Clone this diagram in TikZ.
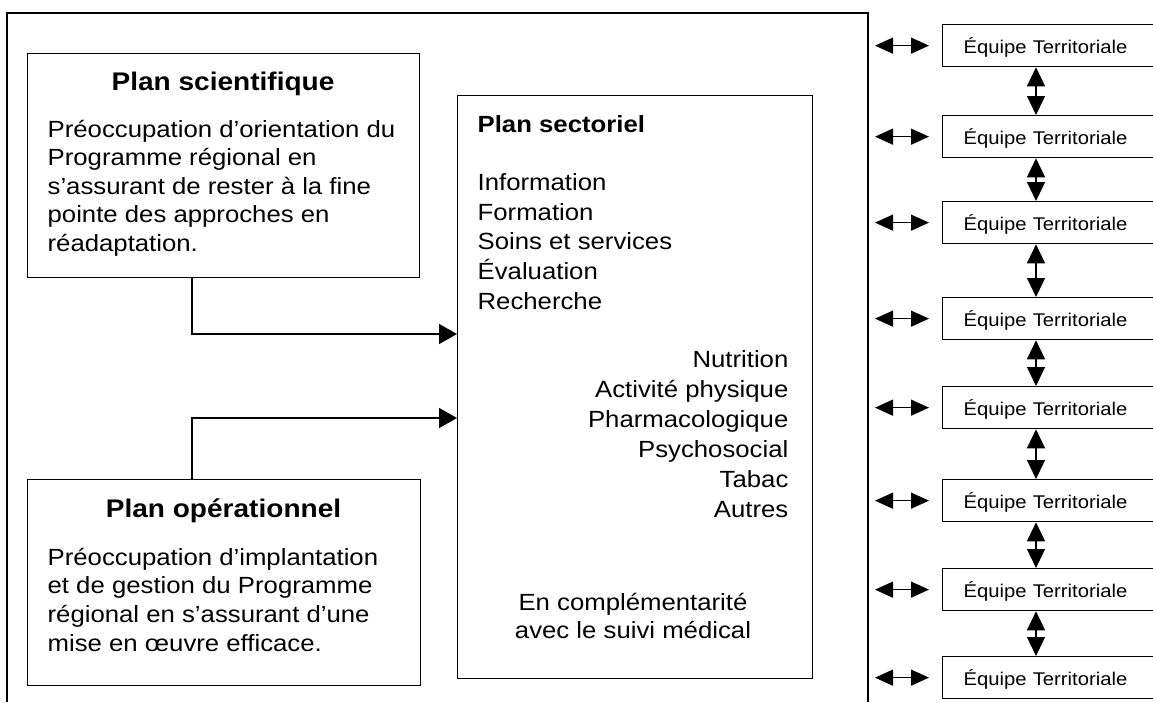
\documentclass[tikz,border=0pt]{standalone}
\usepackage{fontspec}
\setmainfont{Liberation Sans}[FakeStretch=1.1]
\usetikzlibrary{arrows.meta}

\newcommand\bodysize{\fontsize{23.4}{28.6}\selectfont}
\newcommand\midsize{\fontsize{23.4}{29.6}\selectfont}
\newcommand\headsize{\fontsize{25.5}{30}\selectfont\bfseries}
\newcommand\teamsize{\fontsize{18.4}{22}\selectfont}

\begin{document}
\begin{tikzpicture}[x=1pt, y=-1pt, line width=1.3pt,
  box/.style={draw, line width=1.3pt, inner sep=0pt, anchor=north west},
  txt/.style={inner sep=0pt, align=left, anchor=base west},
  team/.style={box, minimum width=223pt, minimum height=42pt,
    inner xsep=21pt, text width=181pt, align=left,
    text height=16pt, text depth=1pt, font=\teamsize},
  feed/.style={-{Triangle[length=18pt, width=20pt]}},
  link/.style={{Triangle[length=18pt, width=16pt]}-{Triangle[length=18pt, width=16pt]}, shorten >=13pt},
  chain/.style={{Triangle[length=19pt, width=18pt]}-{Triangle[length=19pt, width=18pt]}}]
\useasboundingbox (0,0) rectangle (1153,702);

% outer frame, open at the bottom
\draw (7,702) -- (7,13) -- (868,13) -- (868,702);

% scientific plan (multi-line texts are placed by the baseline of their last line)
\node[box, minimum width=392pt, minimum height=224pt] (sci) at (27,53) {};
\node[inner sep=0pt, anchor=base, font=\headsize] (scit) at (223,90) {Plan scientifique};
\node[txt, font=\bodysize] (scib) at (47,251.4) {Préoccupation d’orientation du\\Programme régional en\\s’assurant de rester à la fine\\pointe des approches en\\réadaptation.};

% operational plan
\node[box, minimum width=393pt, minimum height=206pt] (ope) at (27,479) {};
\node[inner sep=0pt, anchor=base, font=\headsize] (opet) at (223.5,517) {Plan opérationnel};
\node[txt, font=\bodysize] (opeb) at (47,651) {Préoccupation d’implantation\\et de gestion du Programme\\régional en s’assurant d’une\\mise en œuvre efficace.};

% sector plan
\node[box, minimum width=355pt, minimum height=583pt] (sect) at (457,95) {};
\node[txt, font=\midsize\bfseries] (sectt) at (477,132) {Plan sectoriel};
\node[txt, font=\midsize] (sectl) at (477,309) {Information\\Formation\\Soins et services\\Évaluation\\Recherche};
\node[inner sep=0pt, align=right, anchor=base east, font=\fontsize{23.4}{30}\selectfont] (sectr) at (789,517) {Nutrition\\Activité physique\\Pharmacologique\\Psychosocial\\Tabac\\Autres};
\node[inner sep=0pt, align=center, anchor=base, font=\fontsize{23.4}{28.5}\selectfont] (sectc) at (633,638.5) {En complémentarité\\avec le suivi médical};

% feeds into the sector plan
\coordinate (fx) at (192,0);
\coordinate (fy1) at (0,334);
\coordinate (fy2) at (0,418);
\draw[feed] (sci.south -| fx) |- (sect.west |- fy1);
\draw[feed] (ope.north -| fx) |- (sect.west |- fy2);

% territorial teams
\node[team] (e1) at (942,24) {Équipe Territoriale};
\node[team] (e2) at (942,115) {Équipe Territoriale};
\node[team] (e3) at (942,201) {Équipe Territoriale};
\node[team] (e4) at (942,297) {Équipe Territoriale};
\node[team] (e5) at (942,386) {Équipe Territoriale};
\node[team] (e6) at (942,479) {Équipe Territoriale};
\node[team] (e7) at (942,568) {Équipe Territoriale};
\node[team] (e8) at (942,656) {Équipe Territoriale};

\coordinate (lx) at (875,0);
\coordinate (cx) at (1036,0);
\foreach \i in {1,...,8}{
  \draw[link] (e\i.west -| lx) -- (e\i.west);
}
\foreach \i/\j in {1/2,2/3,3/4,4/5,5/6,6/7,7/8}{
  \draw[chain] (e\i.south -| cx) -- (e\j.north -| cx);
}
\end{tikzpicture}
\end{document}
